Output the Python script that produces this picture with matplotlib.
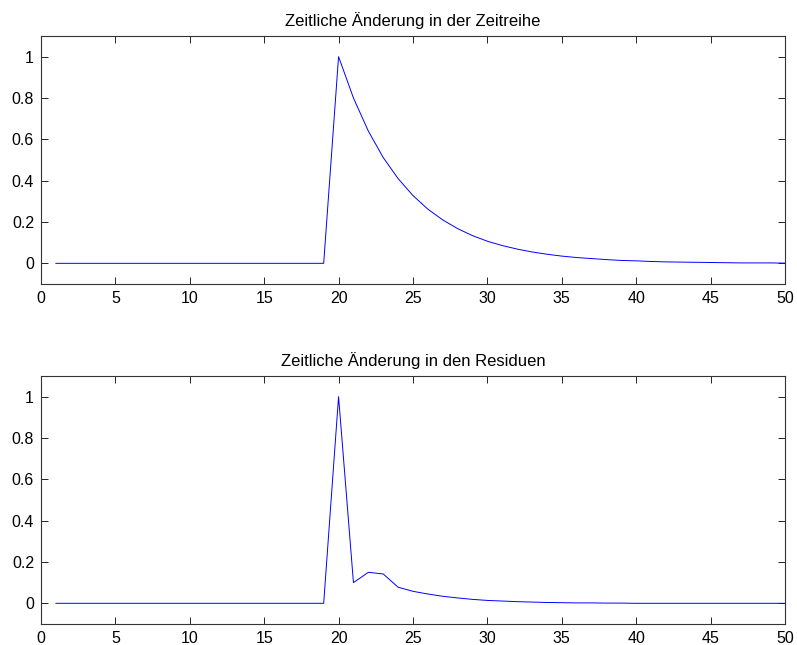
# plot.py
# Zwei Teilbilder: zeitliche Aenderung in Zeitreihe und Residuen
import matplotlib
matplotlib.use('Agg')
import matplotlib.pyplot as plt
import numpy as np

plt.rcParams['font.family'] = ['Liberation Sans', 'DejaVu Sans']

t = np.arange(1, 51)

# werte ab t=20 (davor alles 0)
reihe_tail = [1.0, 0.8, 0.64, 0.512, 0.41, 0.328, 0.262, 0.21, 0.168, 0.134,
              0.107, 0.086, 0.069, 0.055, 0.044, 0.035, 0.028, 0.023, 0.018, 0.014,
              0.012, 0.009, 0.007, 0.006, 0.005, 0.004, 0.003, 0.002, 0.002, 0.002, 0.001]
resid_tail = [1.0, 0.10, 0.15, 0.142, 0.078, 0.058, 0.045, 0.034, 0.026, 0.019,
              0.014, 0.011, 0.008, 0.006, 0.004, 0.003, 0.002, 0.002, 0.001, 0.001,
              0.0, 0.0, 0.0, 0.0, 0.0, 0.0, 0.0, 0.0, 0.0, 0.0, 0.0]

zeitreihe = [0.0] * 19 + reihe_tail
residuen = [0.0] * 19 + resid_tail

titles = ['Zeitliche \u00c4nderung in der Zeitreihe',
          'Zeitliche \u00c4nderung in den Residuen']
xticks = [0, 5, 10, 15, 20, 25, 30, 35, 40, 45, 50]
yticks = [0, 0.2, 0.4, 0.6, 0.8, 1]
yticklabels = ['0', '0.2', '0.4', '0.6', '0.8', '1']


def styleAx(ax, title):
    ax.set_xlim(0, 50)
    ax.set_ylim(-0.1, 1.1)
    ax.set_xticks(xticks)
    ax.set_yticks(yticks)
    ax.set_yticklabels(yticklabels)
    ax.tick_params(direction='in', top=True, right=True, length=5,
                   width=0.6, labelsize=11.5, colors='#000000', pad=5)
    for s in ax.spines.values():
        s.set_linewidth(0.8)
        s.set_color('#333333')
    ax.set_title(title, fontsize=12, pad=7)


fig = plt.figure(figsize=(7.97, 6.45), dpi=100)
ax1 = fig.add_axes([0.0514, 0.5597, 0.9335, 0.3845])
ax2 = fig.add_axes([0.0514, 0.0326, 0.9335, 0.3845])

ax1.plot(t, zeitreihe, color='#0000ff', linewidth=0.7)
ax2.plot(t, residuen, color='#0000ff', linewidth=0.7)
styleAx(ax1, titles[0])
styleAx(ax2, titles[1])

plt.savefig('out.png', dpi=100)
